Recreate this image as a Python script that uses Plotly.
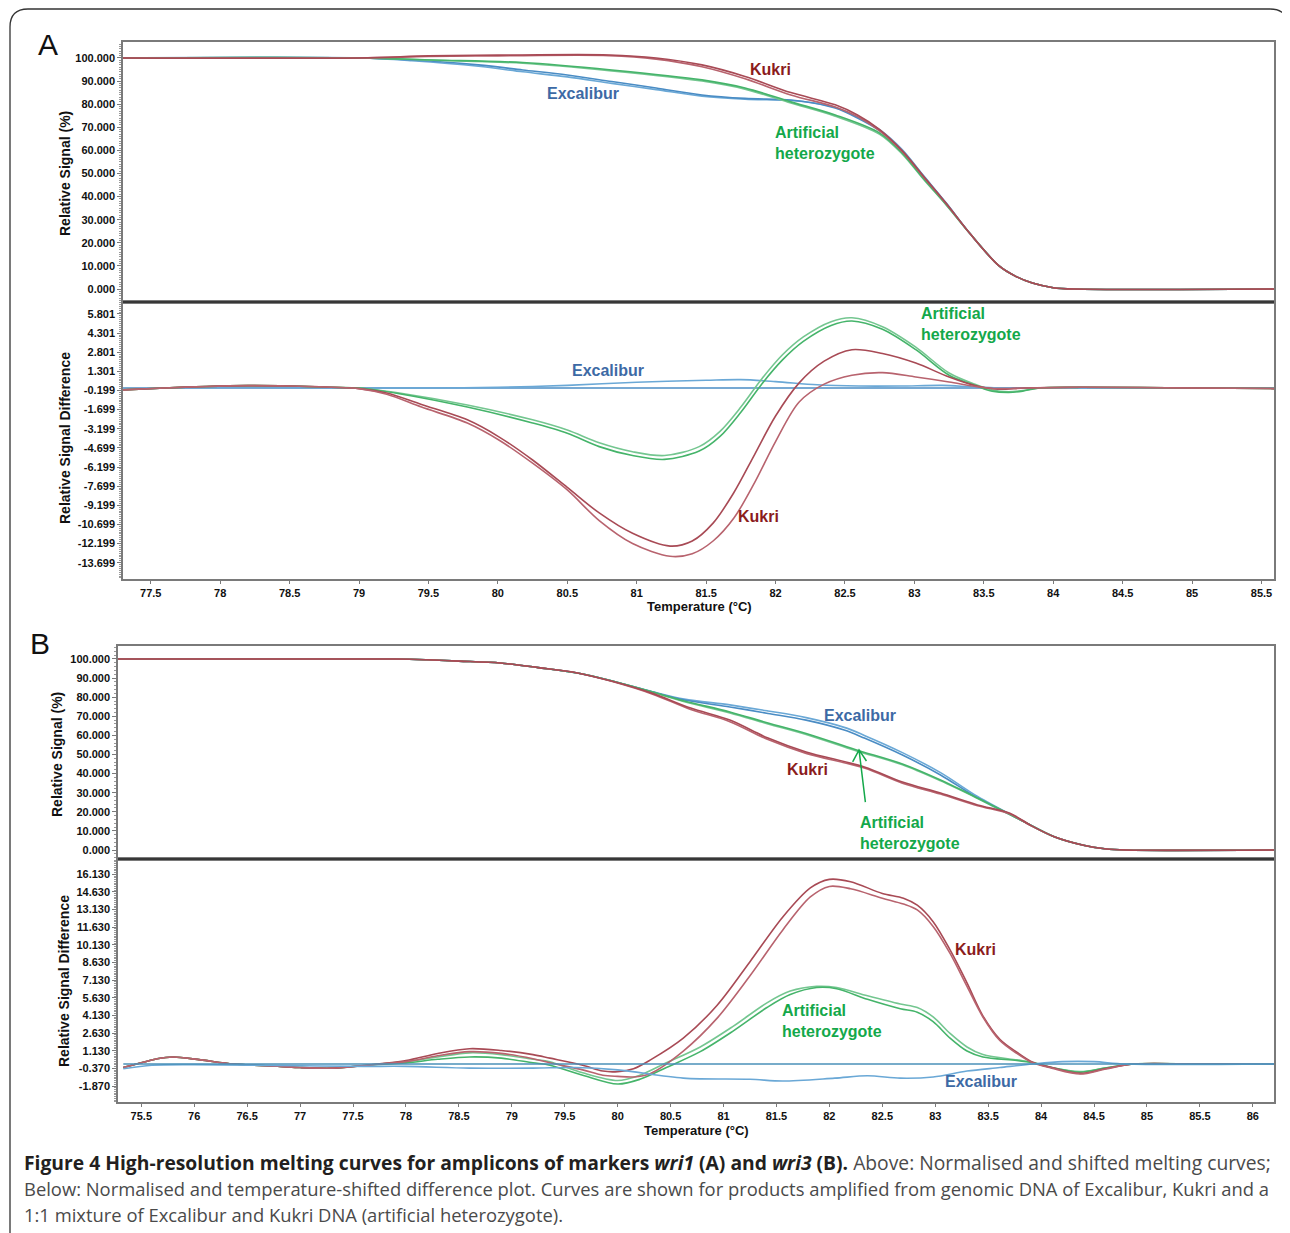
import plotly.graph_objects as go

# The page body has an 8 px margin, so the figure is drawn 8 px in from the window edge.
OFF = 8
W, H = 1290 - OFF, 1233 - OFF

# ===================== Panel A (wri1) =====================
# --- normalised melting curves (Relative Signal %) ---
a_top_exc_t = [77.30, 79.00, 79.38, 79.86, 80.18, 80.50, 80.82, 81.14, 81.47, 81.78, 82.11, 82.27, 82.43, 82.59, 82.75, 82.91, 83.07, 83.23, 83.40, 83.61, 83.73, 83.85, 84.00, 84.15, 85.59]
a_top_exc_1 = [100, 100, 99.1, 97.0, 94.8, 92.6, 89.8, 87.0, 84.0, 82.5, 81.8, 80.5, 78.3, 74.0, 68.5, 60.0, 48.5, 37.0, 24.0, 10.0, 5.5, 2.6, 0.6, 0, 0]
a_top_exc_2 = [100, 100, 98.8, 96.4, 94.0, 91.8, 89.0, 86.3, 83.5, 82.2, 81.6, 80.6, 78.6, 74.5, 69.0, 60.5, 48.8, 37.2, 24.0, 10.0, 5.5, 2.6, 0.6, 0, 0]

a_top_kuk_t = [77.30, 79.00, 79.50, 80.00, 80.80, 81.14, 81.47, 81.78, 82.11, 82.43, 82.59, 82.75, 82.91, 83.07, 83.23, 83.40, 83.61, 83.73, 83.85, 84.00, 84.15, 85.59]
a_top_kuk_1 = [100, 100, 100.9, 101.2, 101.3, 100.0, 97.0, 92.0, 85.0, 79.7, 75.3, 69.0, 60.0, 48.5, 37.0, 24.0, 10.0, 5.5, 2.6, 0.6, 0, 0]
a_top_kuk_2 = [100, 100, 100.6, 100.9, 101.0, 99.5, 96.2, 91.0, 84.0, 78.8, 74.6, 68.4, 59.6, 48.2, 36.8, 24.0, 10.0, 5.5, 2.6, 0.6, 0, 0]

a_top_het_t = [77.30, 79.00, 79.54, 80.18, 80.82, 81.47, 81.78, 82.11, 82.43, 82.75, 82.91, 83.07, 83.23, 83.40, 83.61, 83.73, 83.85, 84.00, 84.15, 85.59]
a_top_het_1 = [100, 100, 99.1, 98.0, 94.8, 90.5, 87.0, 81.0, 75.3, 67.5, 59.0, 47.5, 36.5, 24.0, 10.0, 5.5, 2.6, 0.6, 0, 0]
a_top_het_2 = [100, 100, 99.0, 97.7, 94.4, 90.0, 86.5, 80.5, 74.8, 67.0, 58.6, 47.2, 36.3, 24.0, 10.0, 5.5, 2.6, 0.6, 0, 0]

# --- difference plot (Relative Signal Difference) ---
a_dif_exc_t = [77.30, 78.00, 79.00, 79.50, 80.00, 80.50, 81.00, 81.50, 81.75, 82.00, 82.30, 82.60, 82.90, 83.20, 83.40, 83.60, 84.00, 85.59]
a_dif_exc_1 = [0.0, 0.0, 0.0, 0.0, 0.0, 0.0, 0.0, 0.0, 0.0, 0.0, 0.0, 0.0, 0.0, 0.0, 0.0, 0.0, 0.0, 0.0]
a_dif_exc_2 = [-0.1, 0.05, 0.0, 0.0, 0.05, 0.2, 0.45, 0.6, 0.65, 0.5, 0.25, 0.15, 0.15, 0.2, 0.1, 0.0, 0.0, 0.0]

a_dif_kuk_t = [77.30, 77.60, 77.90, 78.20, 78.50, 78.80, 79.00, 79.20, 79.45, 79.78, 80.01, 80.25, 80.50, 80.73, 80.97, 81.24, 81.40, 81.55, 81.70, 81.85, 82.00, 82.17, 82.35, 82.55, 82.77, 83.01, 83.25, 83.45, 83.60, 83.80, 84.20, 85.00, 85.59]
a_dif_kuk_1 = [-0.15, 0.0, 0.12, 0.18, 0.15, 0.05, -0.05, -0.4, -1.3, -2.5, -3.85, -5.65, -7.8, -9.8, -11.4, -12.4, -12.0, -10.6, -8.2, -5.2, -2.2, 0.4, 2.1, 3.0, 2.7, 1.95, 0.86, 0.15, -0.1, 0.0, 0.05, 0.0, -0.05]
a_dif_kuk_2 = [-0.15, 0.0, 0.12, 0.18, 0.15, 0.05, -0.05, -0.5, -1.5, -2.75, -4.1, -5.9, -8.0, -10.4, -12.2, -13.2, -13.0, -12.0, -10.2, -7.4, -4.2, -1.1, 0.3, 1.0, 1.2, 0.86, 0.47, 0.1, -0.05, 0.0, 0.05, 0.0, -0.05]

a_dif_het_t = [77.30, 77.60, 77.90, 78.20, 78.50, 78.80, 79.00, 79.29, 79.78, 80.25, 80.50, 80.73, 80.97, 81.20, 81.45, 81.60, 81.75, 81.90, 82.05, 82.20, 82.40, 82.55, 82.77, 83.01, 83.25, 83.45, 83.56, 83.68, 83.78, 83.90, 84.20, 85.00, 85.59]
a_dif_het_1 = [-0.15, 0.0, 0.12, 0.18, 0.15, 0.05, 0.0, -0.4, -1.34, -2.5, -3.3, -4.3, -5.0, -5.3, -4.6, -3.4, -1.5, 0.7, 2.6, 4.0, 5.2, 5.5, 4.8, 3.2, 1.17, 0.23, -0.16, -0.3, -0.2, 0.0, 0.05, 0.0, -0.05]
a_dif_het_2 = [-0.15, 0.0, 0.12, 0.18, 0.15, 0.05, 0.0, -0.45, -1.5, -2.75, -3.55, -4.6, -5.3, -5.6, -4.95, -3.8, -1.9, 0.3, 2.2, 3.65, 4.9, 5.25, 4.6, 3.0, 1.0, 0.15, -0.25, -0.35, -0.25, 0.0, 0.05, 0.0, -0.05]

# ===================== Panel B (wri3) =====================
b_top_exc_t = [75.28, 77.90, 78.20, 78.50, 78.89, 79.25, 79.62, 79.95, 80.33, 80.63, 81.06, 81.42, 81.78, 82.14, 82.33, 82.69, 83.05, 83.40, 83.77, 84.13, 84.40, 84.60, 84.80, 86.20]
b_top_exc_1 = [100, 100, 99.6, 98.9, 97.9, 95.5, 92.7, 88.5, 82.7, 78.5, 74.9, 71.5, 68.0, 62.8, 58.6, 49.7, 39.3, 27.2, 16.8, 6.8, 2.5, 0.7, 0, 0]
b_top_exc_2 = [100, 100, 99.6, 98.9, 97.9, 95.5, 92.7, 88.5, 82.9, 79.0, 76.0, 72.8, 69.3, 64.2, 60.0, 51.0, 40.5, 28.0, 16.9, 6.8, 2.5, 0.7, 0, 0]

b_top_het_t = [75.28, 77.90, 78.20, 78.50, 78.89, 79.25, 79.62, 79.95, 80.33, 80.63, 81.06, 81.42, 81.78, 82.25, 82.69, 83.05, 83.40, 83.77, 84.13, 84.40, 84.60, 84.80, 86.20]
b_top_het_1 = [100, 100, 99.6, 98.9, 97.9, 95.5, 92.7, 88.5, 82.7, 78.0, 72.3, 66.5, 61.0, 52.5, 45.0, 36.6, 27.2, 16.8, 6.8, 2.5, 0.7, 0, 0]
b_top_het_2 = [100, 100, 99.6, 98.9, 97.9, 95.5, 92.7, 88.5, 82.6, 77.6, 71.8, 66.0, 60.5, 52.0, 44.6, 36.2, 27.0, 16.8, 6.8, 2.5, 0.7, 0, 0]

b_top_kuk_t = [75.28, 77.90, 78.20, 78.50, 78.89, 79.25, 79.62, 79.95, 80.33, 80.69, 81.06, 81.42, 81.78, 82.33, 82.69, 83.05, 83.40, 83.70, 83.90, 84.13, 84.40, 84.60, 84.80, 86.20]
b_top_kuk_1 = [100, 100, 99.6, 98.9, 97.9, 95.5, 92.7, 88.3, 82.0, 74.3, 68.0, 58.6, 51.3, 43.5, 35.6, 29.8, 23.6, 19.4, 13.0, 6.8, 2.5, 0.7, 0, 0]
b_top_kuk_2 = [100, 100, 99.6, 98.9, 97.9, 95.5, 92.7, 88.2, 81.6, 73.6, 67.2, 57.8, 50.6, 42.9, 35.0, 29.3, 23.2, 19.0, 12.8, 6.8, 2.5, 0.7, 0, 0]

b_dif_exc_t = [75.33, 75.60, 76.00, 77.00, 77.60, 78.00, 78.60, 79.20, 79.60, 80.00, 80.62, 81.25, 81.56, 82.05, 82.36, 82.67, 82.98, 83.30, 83.61, 83.92, 84.20, 84.50, 84.80, 86.20]
b_dif_exc_1 = [0.0, 0.0, 0.0, 0.0, 0.0, 0.0, 0.0, 0.0, 0.0, 0.0, 0.0, 0.0, 0.0, 0.0, 0.0, 0.0, 0.0, 0.0, 0.0, 0.0, 0.0, 0.0, 0.0, 0.0]
b_dif_exc_2 = [-0.4, -0.1, -0.05, -0.15, -0.2, -0.2, -0.35, -0.35, -0.3, -0.5, -1.2, -1.3, -1.45, -1.2, -1.0, -1.2, -1.1, -0.6, -0.3, 0.0, 0.2, 0.2, 0.0, 0.0]

b_dif_kuk_t = [75.33, 75.50, 75.65, 75.80, 76.06, 76.37, 76.81, 77.00, 77.31, 77.63, 78.00, 78.30, 78.60, 78.90, 79.20, 79.36, 79.67, 79.86, 80.00, 80.15, 80.31, 80.62, 80.94, 81.25, 81.56, 81.82, 82.00, 82.20, 82.50, 82.70, 82.83, 82.98, 83.14, 83.30, 83.45, 83.61, 83.77, 83.92, 84.10, 84.37, 84.60, 84.87, 85.50, 86.20]
b_dif_kuk_1 = [-0.3, 0.1, 0.45, 0.6, 0.35, 0.0, -0.2, -0.3, -0.35, -0.1, 0.3, 0.9, 1.3, 1.15, 0.8, 0.5, -0.1, -0.6, -0.65, -0.4, 0.35, 2.2, 5.0, 8.7, 12.5, 14.97, 15.7, 15.5, 14.5, 14.1, 13.5, 12.1, 9.7, 6.9, 4.1, 2.1, 1.0, 0.15, -0.3, -0.8, -0.4, 0.0, 0.0, 0.0]
b_dif_kuk_2 = [-0.3, 0.1, 0.45, 0.6, 0.35, 0.0, -0.2, -0.3, -0.35, -0.1, 0.2, 0.7, 1.05, 0.9, 0.45, 0.1, -0.5, -0.95, -1.05, -1.1, -0.8, 1.1, 3.9, 7.5, 11.4, 14.2, 15.1, 14.9, 14.1, 13.6, 13.1, 11.7, 9.4, 6.6, 4.0, 2.0, 0.9, 0.1, -0.35, -0.85, -0.45, 0.0, 0.0, 0.0]

b_dif_het_t = [75.33, 75.50, 75.65, 75.80, 76.06, 76.37, 76.81, 77.00, 77.31, 77.63, 78.00, 78.30, 78.60, 78.90, 79.20, 79.36, 79.67, 80.00, 80.21, 80.46, 80.78, 81.09, 81.41, 81.63, 81.88, 82.07, 82.36, 82.67, 82.83, 82.98, 83.14, 83.30, 83.45, 83.77, 83.92, 84.10, 84.37, 84.60, 84.87, 85.50, 86.20]
b_dif_het_1 = [-0.3, 0.1, 0.45, 0.6, 0.35, 0.0, -0.2, -0.3, -0.35, -0.1, 0.2, 0.6, 0.95, 0.8, 0.4, 0.2, -0.75, -1.4, -0.95, 0.1, 1.45, 3.2, 5.2, 6.2, 6.6, 6.5, 5.8, 5.1, 4.8, 4.0, 2.6, 1.45, 0.8, 0.35, 0.15, -0.3, -0.65, -0.35, 0.0, 0.0, 0.0]
b_dif_het_2 = [-0.3, 0.1, 0.45, 0.6, 0.35, 0.0, -0.2, -0.3, -0.35, -0.1, 0.1, 0.4, 0.6, 0.5, 0.1, -0.1, -0.95, -1.7, -1.3, -0.3, 1.05, 2.8, 4.8, 5.9, 6.5, 6.4, 5.5, 4.7, 4.4, 3.6, 2.2, 1.1, 0.6, 0.3, 0.1, -0.3, -0.7, -0.35, 0.0, 0.0, 0.0]

# ---- tick labels ----
a_x_ticks = [77.5, 78, 78.5, 79, 79.5, 80, 80.5, 81, 81.5, 82, 82.5, 83, 83.5, 84, 84.5, 85, 85.5]
a_x_labels = ["77.5", "78", "78.5", "79", "79.5", "80", "80.5", "81", "81.5", "82", "82.5", "83", "83.5", "84", "84.5", "85", "85.5"]
b_x_ticks = [75.5, 76, 76.5, 77, 77.5, 78, 78.5, 79, 79.5, 80, 80.5, 81, 81.5, 82, 82.5, 83, 83.5, 84, 84.5, 85, 85.5, 86]
b_x_labels = ["75.5", "76", "76.5", "77", "77.5", "78", "78.5", "79", "79.5", "80", "80.5", "81", "81.5", "82", "82.5", "83", "83.5", "84", "84.5", "85", "85.5", "86"]
sig_ticks = [0, 10, 20, 30, 40, 50, 60, 70, 80, 90, 100]
sig_labels = ["0.000", "10.000", "20.000", "30.000", "40.000", "50.000", "60.000", "70.000", "80.000", "90.000", "100.000"]
a_dif_ticks = [5.801, 4.301, 2.801, 1.301, -0.199, -1.699, -3.199, -4.699, -6.199, -7.699, -9.199, -10.699, -12.199, -13.699]
a_dif_labels = ["5.801", "4.301", "2.801", "1.301", "-0.199", "-1.699", "-3.199", "-4.699", "-6.199", "-7.699", "-9.199", "-10.699", "-12.199", "-13.699"]
b_dif_ticks = [16.13, 14.63, 13.13, 11.63, 10.13, 8.63, 7.13, 5.63, 4.13, 2.63, 1.13, -0.37, -1.87]
b_dif_labels = ["16.130", "14.630", "13.130", "11.630", "10.130", "8.630", "7.130", "5.630", "4.130", "2.630", "1.130", "-0.370", "-1.870"]

# ---------------- styling ----------------
C_KUK, C_KUK2 = "#a84a55", "#b8636e"
C_HET, C_HET2 = "#45b46a", "#74c690"
C_EXC, C_EXC2 = "#4a8cc4", "#6aa8d6"
L_KUK, L_HET, L_EXC = "#8b1c1c", "#14a84a", "#3d6aa5"
FONT = "Liberation Sans, Arial, sans-serif"
TICKFONT = dict(family=FONT, size=11, color="#111", weight="bold")
FRAME = "#7a7a7a"


def px(x):
    return (x - OFF) / W


def py(y):
    return 1 - (y - OFF) / H


def xdom(l, r):
    return [px(l), px(r)]


def ydom(t, b):
    return [py(b), py(t)]


fig = go.Figure()


def add(t, v, color, ax, width=1.6):
    fig.add_trace(go.Scatter(x=t, y=v, mode="lines", xaxis="x" + ax, yaxis="y" + ax,
                             line=dict(color=color, width=width, shape="spline", smoothing=0.9),
                             showlegend=False, hoverinfo="skip"))


ax_ = ""  # first axis pair has no suffix
add(a_top_exc_t, a_top_exc_2, C_EXC2, ax_)
add(a_top_exc_t, a_top_exc_1, C_EXC, ax_)
add(a_top_het_t, a_top_het_2, C_HET2, ax_)
add(a_top_het_t, a_top_het_1, C_HET, ax_)
add(a_top_kuk_t, a_top_kuk_2, C_KUK2, ax_)
add(a_top_kuk_t, a_top_kuk_1, C_KUK, ax_)

add(a_dif_exc_t, a_dif_exc_1, C_EXC, "2")
add(a_dif_exc_t, a_dif_exc_2, C_EXC2, "2")
add(a_dif_het_t, a_dif_het_1, C_HET2, "2")
add(a_dif_het_t, a_dif_het_2, C_HET, "2")
add(a_dif_kuk_t, a_dif_kuk_1, C_KUK, "2")
add(a_dif_kuk_t, a_dif_kuk_2, C_KUK2, "2")

add(b_top_exc_t, b_top_exc_2, C_EXC2, "3")
add(b_top_exc_t, b_top_exc_1, C_EXC, "3")
add(b_top_het_t, b_top_het_2, C_HET2, "3")
add(b_top_het_t, b_top_het_1, C_HET, "3")
add(b_top_kuk_t, b_top_kuk_2, C_KUK2, "3")
add(b_top_kuk_t, b_top_kuk_1, C_KUK, "3")

add(b_dif_het_t, b_dif_het_1, C_HET2, "4")
add(b_dif_het_t, b_dif_het_2, C_HET, "4")
add(b_dif_kuk_t, b_dif_kuk_1, C_KUK, "4")
add(b_dif_kuk_t, b_dif_kuk_2, C_KUK2, "4")
add(b_dif_exc_t, b_dif_exc_2, C_EXC2, "4")
add(b_dif_exc_t, b_dif_exc_1, "#4a90b8", "4")

A_L, A_R = 123, 1274
B_L, B_R = 118, 1274
A_T, A_M, A_B = 42, 302, 579
B_T, B_M, B_B = 646, 859, 1102
A_XR = [77.30, 85.59]
B_XR = [75.28, 86.20]


def xax(dom, rng, anchor, ticks=None, labels=None):
    d = dict(domain=dom, range=rng, anchor=anchor, showgrid=False, zeroline=False,
             showline=True, mirror=True, linecolor=FRAME, linewidth=1.5,
             tickfont=TICKFONT, fixedrange=True)
    if ticks is None:
        d.update(showticklabels=False, ticks="")
    else:
        d.update(tickmode="array", tickvals=ticks, ticktext=labels, ticks="outside",
                 ticklen=3, tickcolor=FRAME)
    return d


def yax(dom, rng, anchor, ticks, labels, m0, md):
    return dict(domain=dom, range=rng, anchor=anchor, showgrid=False, zeroline=False,
                showline=True, mirror=True, linecolor=FRAME, linewidth=1.5,
                tickmode="array", tickvals=ticks, ticktext=labels, ticks="outside",
                ticklen=4, tickcolor=FRAME, tickfont=TICKFONT, fixedrange=True,
                minor=dict(ticks="outside", ticklen=2, tickcolor="#999", tick0=m0, dtick=md))


fig.update_layout(
    width=W, height=H, margin=dict(l=0, r=0, t=0, b=0),
    paper_bgcolor="white", plot_bgcolor="white",
    xaxis=xax(xdom(A_L, A_R), A_XR, "y"),
    yaxis=yax(ydom(A_T, A_M), [-5.6, 106.9], "x", sig_ticks, sig_labels, 0, 1),
    xaxis2=xax(xdom(A_L, A_R), A_XR, "y2", a_x_ticks, a_x_labels),
    yaxis2=yax(ydom(A_M, A_B), [-14.98, 6.74], "x2", a_dif_ticks, a_dif_labels, -0.199, 0.15),
    xaxis3=xax(xdom(B_L, B_R), B_XR, "y3"),
    yaxis3=yax(ydom(B_T, B_M), [-4.7, 106.8], "x3", sig_ticks, sig_labels, 0, 2),
    xaxis4=xax(xdom(B_L, B_R), B_XR, "y4", b_x_ticks, b_x_labels),
    yaxis4=yax(ydom(B_M, B_B), [-3.23, 17.43], "x4", b_dif_ticks, b_dif_labels, -0.37, 0.15),
)

shapes = []
# dividers between upper and lower plots
for (l, r, y) in [(A_L, A_R, A_M), (B_L, B_R, B_M)]:
    shapes.append(dict(type="line", xref="paper", yref="paper", x0=px(l), x1=px(r), y0=py(y), y1=py(y),
                       line=dict(color="#222", width=1.4)))
# outer rounded frame
pts = "M {},{} L {},{} Q {},{} {},{} L {},{} Q {},{} {},{} L {},{}".format(
    px(10), py(1233), px(10), py(27), px(10), py(9), px(28), py(9),
    px(1270), py(9), px(1288), py(9), px(1288), py(27), px(1288), py(1233))
shapes.append(dict(type="path", xref="paper", yref="paper", path=pts, line=dict(color="#333", width=1.3)))
# arrow in panel B (upper): tail -> tip, plus open head
shapes.append(dict(type="path", xref="x3", yref="y3",
                   path="M 82.34,25.1 L 82.28,52.4 M 82.22,46.1 L 82.28,52.4 L 82.35,46.6",
                   line=dict(color="#14a84a", width=1.5)))
fig.update_layout(shapes=shapes)

ann = []


def label(text, x, y, ax, color, anchor="center"):
    ann.append(dict(text=text, x=x, y=y, xref="x" + ax, yref="y" + ax, showarrow=False,
                    xanchor=anchor, yanchor="middle", align="left",
                    font=dict(family=FONT, size=16, color=color, weight="bold")))


label("Kukri", 81.96, 95.2, "", L_KUK)
label("Excalibur", 80.61, 84.8, "", L_EXC)
label("Artificial<br>heterozygote", 81.98, 63.0, "", L_HET, "left")
label("Artificial<br>heterozygote", 83.03, 4.98, "2", L_HET, "left")
label("Excalibur", 80.79, 1.33, "2", L_EXC)
label("Kukri", 81.88, -10.04, "2", L_KUK)
label("Excalibur", 82.29, 70.2, "3", L_EXC)
label("Kukri", 81.79, 42.4, "3", L_KUK)
label("Artificial<br>heterozygote", 82.27, 8.9, "3", L_HET, "left")
label("Kukri", 83.38, 9.7, "4", L_KUK)
label("Artificial<br>heterozygote", 81.53, 3.65, "4", L_HET, "left")
label("Excalibur", 83.43, -1.47, "4", L_EXC)


def ptext(text, x, y, size, angle=0, bold=True, anchor="center", family=FONT, color="#111"):
    ann.append(dict(text=text, x=px(x), y=py(y), xref="paper", yref="paper", showarrow=False,
                    xanchor=anchor, yanchor="middle", textangle=angle, align="left",
                    font=dict(family=family, size=size, color=color, weight="bold" if bold else "normal")))


ptext("A", 48, 44, 30, bold=False)
ptext("B", 40, 643, 30, bold=False)
ptext("Relative Signal (%)", 65, 174, 14, angle=-90)
ptext("Relative Signal Difference", 65, 438, 14, angle=-90)
ptext("Relative Signal (%)", 57, 755, 14, angle=-90)
ptext("Relative Signal Difference", 64, 981, 14, angle=-90)
ptext("Temperature (°C)", 699, 606, 13)
ptext("Temperature (°C)", 696, 1130, 13)

CAP = "Open Sans, sans-serif"
ptext("<b>Figure 4 High-resolution melting curves for amplicons of markers <i>wri1</i> (A) and <i>wri3</i> (B).</b>"
      " <span style='color:#4a4a4a'>Above: Normalised and shifted melting curves;</span>",
      22, 1162, 19.3, bold=False, anchor="left", family=CAP, color="#231f20")
ptext("Below: Normalised and temperature-shifted difference plot. Curves are shown for products amplified from genomic DNA of Excalibur, Kukri and a",
      22, 1188, 18.4, bold=False, anchor="left", family=CAP, color="#4a4a4a")
ptext("1:1 mixture of Excalibur and Kukri DNA (artificial heterozygote).",
      22, 1214, 18.4, bold=False, anchor="left", family=CAP, color="#4a4a4a")

fig.update_layout(annotations=ann)
fig.write_html("out.html")
